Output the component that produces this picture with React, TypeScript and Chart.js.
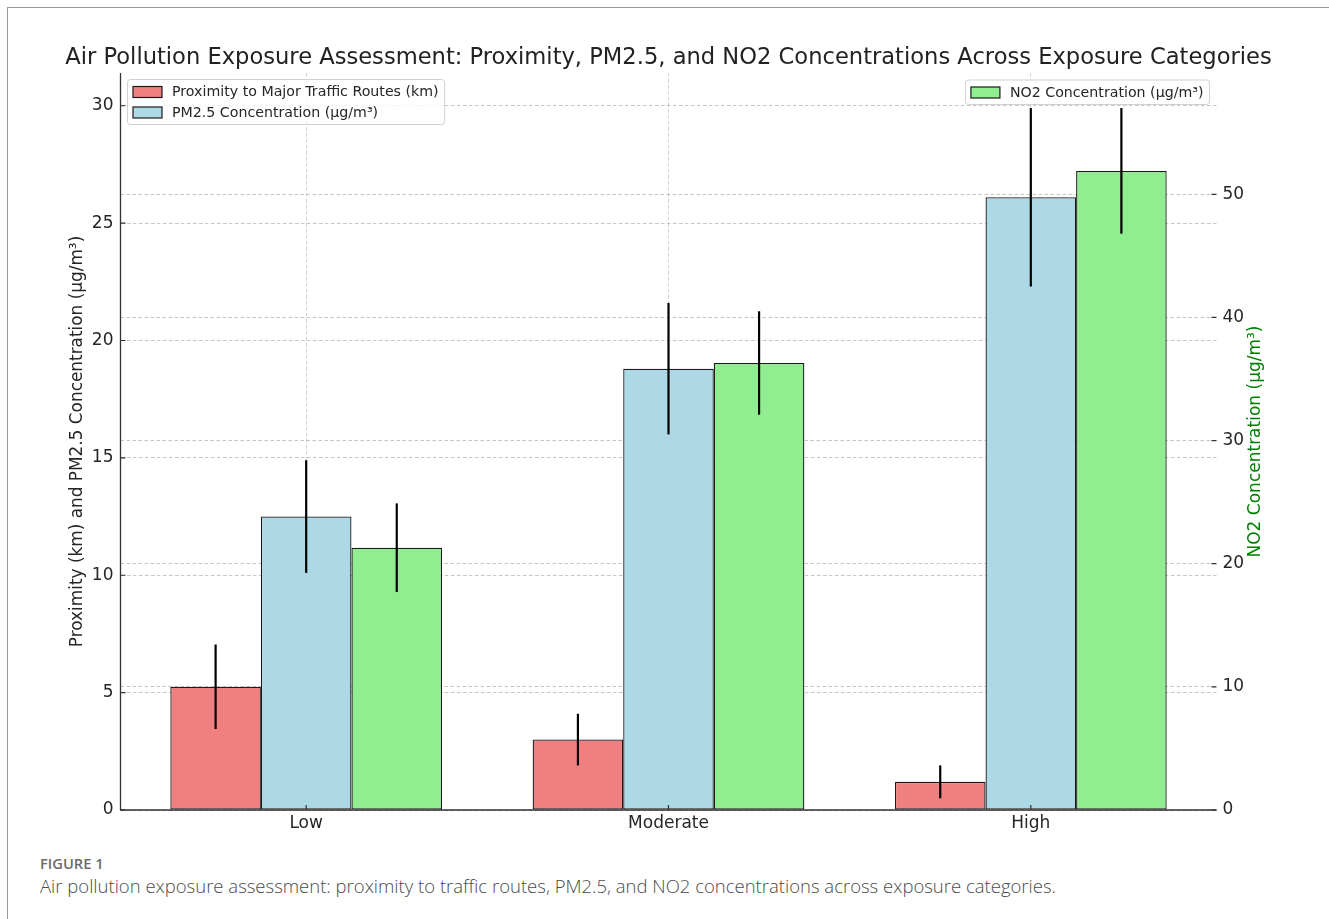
import React, { useEffect, useRef } from 'react';
import { Chart, registerables } from 'chart.js';

Chart.register(...registerables);

// ---------- data ----------
const categories = ['Low', 'Moderate', 'High'];
const proximityKm = [5.25, 3.0, 1.2];
const proximityErr = [1.8, 1.1, 0.7];
const pm25 = [12.5, 18.8, 26.1];
const pm25Err = [2.4, 2.8, 3.8];
const no2 = [21.3, 36.3, 51.9];
const no2Err = [3.6, 4.2, 5.1];
const leftTicks = [0, 5, 10, 15, 20, 25, 30];
const rightTicks = [0, 10, 20, 30, 40, 50];

const seriesLabels = [
  'Proximity to Major Traffic Routes (km)',
  'PM2.5 Concentration (μg/m³)',
  'NO2 Concentration (μg/m³)',
];
const seriesColors = ['#F08080', '#ADD8E6', '#90EE90'];
const seriesErrors = [proximityErr, pm25Err, no2Err];

const titleText =
  'Air Pollution Exposure Assessment: Proximity, PM2.5, and NO2 Concentrations Across Exposure Categories';
const leftAxisTitle = 'Proximity (km) and PM2.5 Concentration (μg/m³)';
const rightAxisTitle = 'NO2 Concentration (μg/m³)';

// matplotlib-like auto limits (5% margin above tallest error bar)
const leftMax = Math.max(...pm25.map((v, i) => v + pm25Err[i]), ...proximityKm.map((v, i) => v + proximityErr[i])) * 1.05;
const rightMax = Math.max(...no2.map((v, i) => v + no2Err[i])) * 1.05;
const xMin = -0.375 - 0.05 * 2.75;
const xMax = 2.375 + 0.05 * 2.75;

const W = 1329;
const CH = 845;
const FONT = '"DejaVu Sans", sans-serif';
const TEXT = '#262626';
const GRID = 'rgba(150,150,150,0.55)';

function drawLegend(ctx: CanvasRenderingContext2D, left: number, top: number, idx: number[], anchorRight: boolean) {
  ctx.save();
  ctx.font = `14.2px ${FONT}`;
  const widths = idx.map((i) => ctx.measureText(seriesLabels[i]).width);
  const boxW = 5.5 + 29 + 10 + Math.max(...widths) + 6;
  const boxH = 4 + idx.length * 20.5;
  const x0 = anchorRight ? left - boxW : left;
  ctx.beginPath();
  (ctx as any).roundRect(x0, top, boxW, boxH, 3);
  ctx.fillStyle = 'rgba(255,255,255,0.8)';
  ctx.fill();
  ctx.strokeStyle = 'rgba(204,204,204,0.9)';
  ctx.lineWidth = 1;
  ctx.stroke();
  idx.forEach((i, r) => {
    const cy = top + 12.5 + r * 20.5;
    ctx.fillStyle = seriesColors[i];
    ctx.fillRect(x0 + 5.5, cy - 5.5, 29, 11);
    ctx.strokeStyle = '#1a1a1a';
    ctx.lineWidth = 1.2;
    ctx.strokeRect(x0 + 5.5, cy - 5.5, 29, 11);
    ctx.fillStyle = TEXT;
    ctx.textAlign = 'left';
    ctx.textBaseline = 'middle';
    ctx.fillText(seriesLabels[i], x0 + 5.5 + 29 + 10, cy + 0.5);
  });
  ctx.restore();
}

const decor = {
  id: 'decor',
  afterDraw(chart: any) {
    const ctx: CanvasRenderingContext2D = chart.ctx;
    const { left, right, top, bottom } = chart.chartArea;
    const xs = chart.scales.x;
    const ys = chart.scales.y;
    const y1 = chart.scales.y1;

    // error bars
    ctx.save();
    ctx.strokeStyle = '#000';
    ctx.lineWidth = 2.2;
    chart.data.datasets.forEach((ds: any, di: number) => {
      const meta = chart.getDatasetMeta(di);
      const sc = chart.scales[meta.yAxisID];
      meta.data.forEach((el: any, j: number) => {
        const v = ds.data[j].y;
        const e = seriesErrors[di][j];
        ctx.beginPath();
        ctx.moveTo(el.x, sc.getPixelForValue(v + e));
        ctx.lineTo(el.x, sc.getPixelForValue(Math.max(0, v - e)));
        ctx.stroke();
      });
    });
    ctx.restore();

    // spines
    ctx.save();
    ctx.strokeStyle = '#333';
    ctx.lineWidth = 1.3;
    ctx.beginPath();
    ctx.moveTo(left, top);
    ctx.lineTo(left, bottom);
    ctx.lineTo(right, bottom);
    ctx.stroke();

    // inward ticks
    ctx.lineWidth = 1.2;
    ctx.beginPath();
    categories.forEach((_, v) => {
      const px = xs.getPixelForValue(v);
      ctx.moveTo(px, bottom);
      ctx.lineTo(px, bottom - 5);
    });
    leftTicks.forEach((v) => {
      const py = ys.getPixelForValue(v);
      ctx.moveTo(left, py);
      ctx.lineTo(left + 5, py);
    });
    rightTicks.forEach((v) => {
      const py = y1.getPixelForValue(v);
      ctx.moveTo(right, py);
      ctx.lineTo(right - 5, py);
    });
    ctx.stroke();
    ctx.restore();

    // titles
    ctx.save();
    ctx.fillStyle = '#222';
    ctx.font = `22.6px ${FONT}`;
    ctx.textAlign = 'center';
    ctx.textBaseline = 'alphabetic';
    ctx.fillText(titleText, (left + right) / 2, 64);

    ctx.font = `16.9px ${FONT}`;
    ctx.textBaseline = 'middle';
    ctx.fillStyle = TEXT;
    ctx.translate(78, (top + bottom) / 2);
    ctx.rotate(-Math.PI / 2);
    ctx.fillText(leftAxisTitle, 0, 0);
    ctx.restore();

    ctx.save();
    ctx.font = `17px ${FONT}`;
    ctx.textAlign = 'center';
    ctx.textBaseline = 'middle';
    ctx.fillStyle = '#008000';
    ctx.translate(1256, (top + bottom) / 2);
    ctx.rotate(-Math.PI / 2);
    ctx.fillText(rightAxisTitle, 0, 0);
    ctx.restore();

    // legends
    drawLegend(ctx, left + 7, top + 6.5, [0, 1], false);
    drawLegend(ctx, right - 7, top + 7, [2], true);
  },
};

export default function App() {
  const ref = useRef<HTMLCanvasElement>(null);
  useEffect(() => {
    const canvas = ref.current!;
    const mk = (i: number, vals: number[], axis: string) => ({
      label: seriesLabels[i],
      data: vals.map((v, j) => ({ x: j, y: v })),
      backgroundColor: seriesColors[i],
      borderColor: '#1a1a1a',
      borderWidth: 1.3,
      borderSkipped: false,
      yAxisID: axis,
      categoryPercentage: 0.75,
      barPercentage: 1,
    });
    const tickFont = { family: FONT, size: 17 };
    const chart = new Chart(canvas, {
      type: 'bar',
      data: {
        datasets: [mk(0, proximityKm, 'y'), mk(1, pm25, 'y'), mk(2, no2, 'y1')] as any,
      },
      options: {
        responsive: false,
        animation: false,
        devicePixelRatio: 1,
        layout: { padding: { top: 73, left: 0, right: 0, bottom: 0 } },
        plugins: {
          legend: { display: false },
          title: { display: false },
          tooltip: { enabled: false },
        },
        scales: {
          x: {
            type: 'linear',
            min: xMin,
            max: xMax,
            offset: false,
            z: 1,
            afterBuildTicks: (s: any) => {
              s.ticks = categories.map((_, i) => ({ value: i }));
            },
            afterFit: (s: any) => {
              s.height = CH - 810;
            },
            ticks: {
              callback: (v: any) => categories[v as number] ?? '',
              font: tickFont,
              color: TEXT,
              padding: 3,
              maxRotation: 0,
            },
            grid: { color: 'rgba(150,150,150,0.45)', lineWidth: 1, drawTicks: false, offset: false },
            border: { display: false, dash: [3.5, 2.5] },
          },
          y: {
            type: 'linear',
            position: 'left',
            min: 0,
            max: leftMax,
            z: 1,
            afterBuildTicks: (s: any) => {
              s.ticks = leftTicks.map((v) => ({ value: v }));
            },
            afterFit: (s: any) => {
              s.width = 120.5;
            },
            ticks: { font: tickFont, color: TEXT, padding: 7 },
            grid: { color: GRID, lineWidth: 1, drawTicks: false },
            border: { display: false, dash: [3.5, 2.5] },
          },
          y1: {
            type: 'linear',
            position: 'right',
            min: 0,
            max: rightMax,
            z: 1,
            afterBuildTicks: (s: any) => {
              s.ticks = rightTicks.map((v) => ({ value: v }));
            },
            afterFit: (s: any) => {
              s.width = W - 1216.5;
            },
            ticks: { font: tickFont, color: TEXT, padding: 6 },
            grid: { color: GRID, lineWidth: 1, drawTicks: false },
            border: { display: false, dash: [3.5, 2.5] },
          },
        },
      } as any,
      plugins: [decor],
    });
    return () => chart.destroy();
  }, []);

  return (
    <div style={{ position: 'absolute', left: 0, top: 0, width: W, height: 919, background: '#fff', overflow: 'hidden' }}>
      <div
        style={{
          position: 'absolute',
          left: 7,
          top: 7,
          width: W,
          height: 940,
          borderTop: '1.5px solid #9a9a9a',
          borderLeft: '1.5px solid #9a9a9a',
        }}
      />
      <canvas ref={ref} width={W} height={CH} style={{ position: 'absolute', left: 0, top: 0 }} />
      <div
        style={{
          position: 'absolute',
          left: 40,
          top: 853,
          fontFamily: '"Open Sans", sans-serif',
          fontSize: 14.7,
          fontWeight: 600,
          color: '#6b6b6b',
          whiteSpace: 'nowrap',
        }}
      >
        FIGURE 1
      </div>
      <div
        style={{
          position: 'absolute',
          left: 40,
          top: 873,
          fontFamily: '"Open Sans", sans-serif',
          fontSize: 18.5,
          fontWeight: 300,
          color: '#4a4a4a',
          whiteSpace: 'nowrap',
        }}
      >
        Air pollution exposure assessment: proximity to traffic routes, PM2.5, and NO2 concentrations across exposure
        categories.
      </div>
    </div>
  );
}
